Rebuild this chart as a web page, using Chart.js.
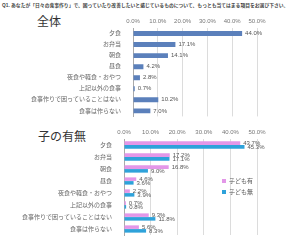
<!DOCTYPE html>
<html>
<head>
<meta charset="utf-8">
<script src="https://cdn.jsdelivr.net/npm/chart.js@4"></script>
<style>
  body { margin: 0; background: #fff; width: 299px; height: 244px; position: relative; overflow: hidden;
         font-family: "Liberation Sans", "Noto Sans CJK JP", sans-serif; }
  .q { position: absolute; left: 2px; top: 1px; font-size: 4.8px; font-weight: bold; color: #444; white-space: nowrap; }
  .head { position: absolute; font-size: 12px; color: #333; font-family: "Noto Sans CJK JP", sans-serif; }
  canvas { position: absolute; left: 0; }
  #legend { position: absolute; left: 222px; top: 177px; font-size: 6px; color: #555; font-family: "Noto Sans CJK JP", sans-serif; }
  #legend div { height: 11px; line-height: 8px; }
  #legend span.box { display: inline-block; width: 4px; height: 4px; margin-right: 3px; vertical-align: middle; }
</style>
</head>
<body>
<div class="q">Q1. あなたが「日々の食事作り」で、困っていたり改善したいと感じているものについて、もっとも当てはまる項目をお選び下さい。</div>
<div class="head" style="left:37px; top:12px;">全体</div>
<div class="head" style="left:38px; top:127px;">子の有無</div>
<canvas id="allChart" width="299" height="112" style="top:12px"></canvas>
<canvas id="kidsChart" width="299" height="120" style="top:124px"></canvas>
<div id="legend"></div>
<script>
var categories = ['夕食', 'お弁当', '朝食', '昼食', '夜食や軽食・おやつ', '上記以外の食事', '食事作りで困っていることはない', '食事は作らない'];
var allValues = [44.0, 17.1, 14.1, 4.2, 2.8, 0.7, 10.2, 7.0];
var kidsLabels = ['子ども有', '子ども無'];
var withKids = [43.7, 17.2, 16.8, 4.6, 2.2, 0.7, 9.3, 5.6];
var withoutKids = [45.3, 17.1, 9.0, 3.6, 3.9, 0.8, 11.8, 8.3];
var axisMax = 50;
var axisStep = 10;

Chart.defaults.font.family = '"Liberation Sans", "Noto Sans CJK JP", sans-serif';
Chart.defaults.font.size = 6;
Chart.defaults.color = '#666';

// writes the value next to the end of each bar
var valueLabels = {
    id: 'valueLabels',
    afterDatasetsDraw: function(chart) {
        var ctx = chart.ctx;
        ctx.save();
        ctx.font = '6px "Liberation Sans", sans-serif';
        ctx.fillStyle = '#555';
        ctx.textBaseline = 'middle';
        chart.data.datasets.forEach(function(ds, i) {
            chart.getDatasetMeta(i).data.forEach(function(bar, j) {
                ctx.fillText(ds.data[j].toFixed(1) + '%', bar.x + 3, bar.y);
            });
        });
        ctx.restore();
    }
};

function makeScales(yWidth, xHeight)
{
    return {
        x: {
            position: 'top',
            min: 0,
            max: axisMax,
            ticks: {
                stepSize: axisStep,
                padding: 3,
                color: '#777',
                callback: function(v) { return v.toFixed(1) + '%'; }
            },
            grid: { color: '#dcdcdc', drawTicks: false },
            border: { display: false },
            afterFit: function(s) { s.height = xHeight; }
        },
        y: {
            grid: { display: false },
            border: { color: '#aaa' },
            ticks: { color: '#666', padding: 4 },
            afterFit: function(s) { s.width = yWidth; }
        }
    };
}

new Chart(document.getElementById('allChart'), {
    type: 'bar',
    data: {
        labels: categories,
        datasets: [{
            label: '全体',
            data: allValues,
            backgroundColor: '#5b80bb',
            categoryPercentage: 0.45,
            barPercentage: 1
        }]
    },
    options: {
        indexAxis: 'y',
        responsive: false,
        animation: false,
        layout: { padding: { right: 42, bottom: 4 } },
        plugins: { legend: { display: false }, tooltip: { enabled: false } },
        scales: makeScales(133, 16)
    },
    plugins: [valueLabels]
});

var kidsChart = new Chart(document.getElementById('kidsChart'), {
    type: 'bar',
    data: {
        labels: categories,
        datasets: [{
            label: kidsLabels[0],
            data: withKids,
            backgroundColor: '#e397e8',
            categoryPercentage: 0.62,
            barPercentage: 0.95
        }, {
            label: kidsLabels[1],
            data: withoutKids,
            backgroundColor: '#2ea2da',
            categoryPercentage: 0.62,
            barPercentage: 0.95
        }]
    },
    options: {
        indexAxis: 'y',
        responsive: false,
        animation: false,
        layout: { padding: { right: 42, bottom: 9 } },
        plugins: { legend: { display: false }, tooltip: { enabled: false } },
        scales: makeScales(124, 15)
    },
    plugins: [valueLabels]
});

// legend built from the datasets
var legend = document.getElementById('legend');
kidsChart.data.datasets.forEach(function(ds) {
    var row = document.createElement('div');
    row.innerHTML = '<span class="box" style="background:' + ds.backgroundColor + '"></span>' + ds.label;
    legend.appendChild(row);
});
</script>
</body>
</html>
